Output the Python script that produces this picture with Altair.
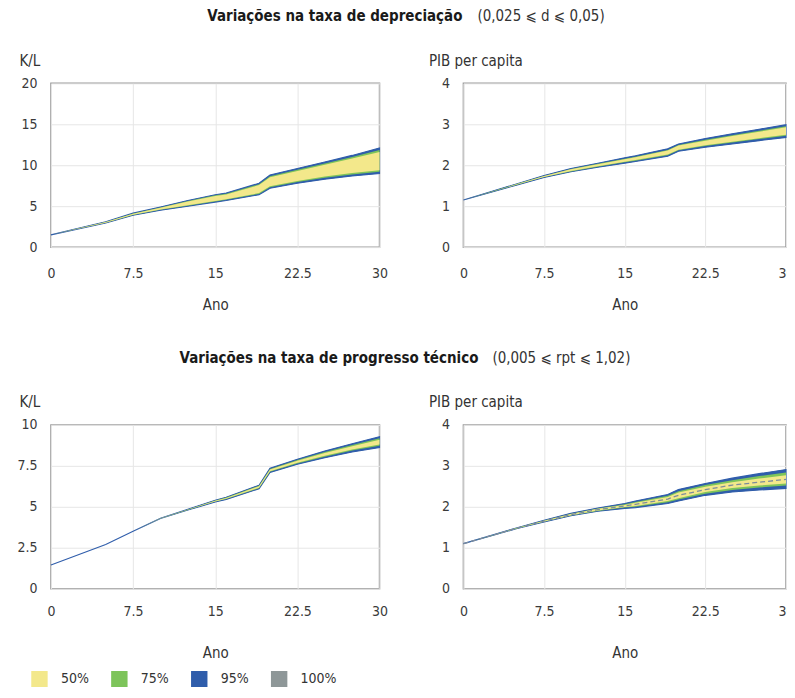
import altair as alt
import pandas as pd

# ---------------- data ----------------
years = [0, 5, 7.5, 10, 12.5, 15, 16, 19, 20, 22.5, 25, 27.5, 30]

# Panel 1: depreciation rate, K/L
dep_kl_lo95 = [1.5, 2.95, 3.9, 4.5, 5.0, 5.5, 5.7, 6.4, 7.2, 7.8, 8.3, 8.7, 9.0]
dep_kl_lo75 = [1.5, 2.97, 3.93, 4.55, 5.06, 5.57, 5.78, 6.5, 7.32, 7.94, 8.46, 8.88, 9.2]
dep_kl_lo50 = [1.5, 2.99, 3.96, 4.6, 5.12, 5.64, 5.86, 6.6, 7.44, 8.08, 8.62, 9.06, 9.4]
dep_kl_hi50 = [1.5, 3.06, 4.09, 4.8, 5.56, 6.24, 6.44, 7.58, 8.54, 9.3, 10.06, 10.82, 11.62]
dep_kl_hi75 = [1.5, 3.08, 4.12, 4.85, 5.63, 6.32, 6.52, 7.68, 8.66, 9.44, 10.22, 11.0, 11.85]
dep_kl_hi95 = [1.5, 3.1, 4.15, 4.9, 5.7, 6.4, 6.6, 7.8, 8.8, 9.6, 10.4, 11.2, 12.1]

# Panel 2: depreciation rate, PIB per capita
dep_pib_lo95 = [1.15, 1.52, 1.70, 1.84, 1.95, 2.05, 2.09, 2.22, 2.34, 2.44, 2.52, 2.60, 2.68]
dep_pib_lo75 = [1.15, 1.525, 1.71, 1.85, 1.965, 2.07, 2.11, 2.245, 2.365, 2.47, 2.555, 2.64, 2.72]
dep_pib_lo50 = [1.15, 1.53, 1.715, 1.86, 1.975, 2.085, 2.125, 2.26, 2.38, 2.49, 2.575, 2.66, 2.745]
dep_pib_hi50 = [1.15, 1.54, 1.735, 1.90, 2.025, 2.145, 2.195, 2.36, 2.48, 2.60, 2.715, 2.82, 2.925]
dep_pib_hi75 = [1.15, 1.545, 1.74, 1.91, 2.035, 2.16, 2.21, 2.375, 2.495, 2.62, 2.735, 2.84, 2.95]
dep_pib_hi95 = [1.15, 1.55, 1.75, 1.92, 2.05, 2.18, 2.23, 2.40, 2.52, 2.65, 2.77, 2.88, 2.99]

# Panel 3: technical progress rate, K/L
tec_kl_lo95 = [1.45, 2.7, 3.5, 4.28, 4.8, 5.3, 5.45, 6.1, 7.1, 7.6, 8.0, 8.35, 8.62]
tec_kl_lo75 = [1.45, 2.7, 3.5, 4.283, 4.81, 5.32, 5.47, 6.13, 7.14, 7.65, 8.06, 8.43, 8.72]
tec_kl_lo50 = [1.45, 2.7, 3.5, 4.286, 4.82, 5.33, 5.49, 6.16, 7.17, 7.69, 8.12, 8.5, 8.8]
tec_kl_hi50 = [1.45, 2.7, 3.5, 4.294, 4.83, 5.37, 5.54, 6.26, 7.28, 7.81, 8.28, 8.7, 9.1]
tec_kl_hi75 = [1.45, 2.7, 3.5, 4.297, 4.84, 5.38, 5.56, 6.29, 7.31, 7.85, 8.34, 8.77, 9.18]
tec_kl_hi95 = [1.45, 2.7, 3.5, 4.3, 4.85, 5.4, 5.58, 6.32, 7.35, 7.9, 8.4, 8.85, 9.28]

# Panel 4: technical progress rate, PIB per capita
tec_pib_lo95 = [1.1, 1.47, 1.63, 1.78, 1.89, 1.96, 1.98, 2.08, 2.14, 2.28, 2.36, 2.41, 2.45]
tec_pib_lo75 = [1.1, 1.472, 1.635, 1.79, 1.90, 1.98, 2.00, 2.11, 2.18, 2.32, 2.41, 2.47, 2.52]
tec_pib_lo50 = [1.1, 1.475, 1.64, 1.795, 1.91, 1.995, 2.02, 2.14, 2.21, 2.36, 2.46, 2.52, 2.57]
tec_pib_hi50 = [1.1, 1.485, 1.66, 1.825, 1.95, 2.045, 2.10, 2.24, 2.35, 2.49, 2.60, 2.69, 2.77]
tec_pib_hi75 = [1.1, 1.488, 1.665, 1.83, 1.96, 2.06, 2.12, 2.27, 2.38, 2.53, 2.65, 2.75, 2.84]
tec_pib_hi95 = [1.1, 1.49, 1.67, 1.84, 1.97, 2.08, 2.14, 2.30, 2.42, 2.57, 2.70, 2.81, 2.91]
tec_pib_med = [1.1, 1.48, 1.65, 1.81, 1.93, 2.02, 2.06, 2.19, 2.28, 2.42, 2.53, 2.60, 2.67]

bands = ["50%", "75%", "95%", "100%"]
band_colors = ["#f3e88b", "#7dc45a", "#2f5dab", "#8e9798"]

x_ticks = [0, 7.5, 15, 22.5, 30]
titles_row1 = ["Variações na taxa de depreciação", "(0,025 ⩽ d ⩽ 0,05)"]
titles_row2 = ["Variações na taxa de progresso técnico", "(0,005 ⩽ rpt ⩽ 1,02)"]

FONT = "DejaVu Sans Condensed, sans-serif"
W_LEFT, W_RIGHT, H = 329, 323, 164


def make_df(lo95, lo75, lo50, hi50, hi75, hi95, med=None):
    d = {"t": years,
         "lo100": lo95, "hi100": hi95,
         "lo95": lo95, "hi95": hi95,
         "lo75": lo75, "hi75": hi75,
         "lo50": lo50, "hi50": hi50}
    if med is not None:
        d["med"] = med
    return pd.DataFrame(d)


def panel(df, width, ymax, yvals, ytitle, title_dx, lab_pad, ano_y, title_texts=None,
          show_med=False):
    xenc = alt.X("t:Q", scale=alt.Scale(domain=[0, 30], nice=False, zero=False),
                 axis=alt.Axis(values=x_ticks, format=".1~f", title="Ano",
                               labelPadding=lab_pad, labelBaseline="middle",
                               titleY=ano_y, titleBaseline="middle"))
    yaxis = alt.Axis(values=yvals, format=".1~f", title=ytitle, titleAngle=0,
                     titleAlign="left", titleX=title_dx, titleY=-23,
                     titleBaseline="middle")
    base = alt.Chart(df)
    layers = []
    for name, lo, hi in [("100%", "lo100", "hi100"), ("95%", "lo95", "hi95"),
                         ("75%", "lo75", "hi75"), ("50%", "lo50", "hi50")]:
        mark_kw = {"opacity": 1}
        if name == "95%":
            mark_kw.update(stroke="#2f5dab", strokeWidth=1.1)
        cenc = alt.Color("band:N", scale=alt.Scale(domain=bands, range=band_colors),
                         legend=alt.Legend(
                             title=None, orient="none", legendX=-20, legendY=588,
                             direction="horizontal", symbolType="square",
                             symbolSize=270, symbolStrokeWidth=0, symbolOpacity=1,
                             labelFontSize=14, labelOffset=13, columnPadding=22,
                             labelFont=FONT, labelColor="#333"))
        layers.append(base.transform_calculate(band=f"'{name}'").mark_area(**mark_kw).encode(
            x=xenc,
            y=alt.Y(f"{lo}:Q", scale=alt.Scale(domain=[0, ymax], nice=False),
                    axis=yaxis),
            y2=f"{hi}:Q",
            color=cenc))
    if show_med:
        layers.append(base.mark_line(color="#7d8c9c", strokeWidth=1.3,
                                     strokeDash=[5, 3]).encode(
            x=xenc, y=alt.Y("med:Q")))
    if title_texts is not None:
        bold_df = pd.DataFrame({"txt": [title_texts[0]]})
        norm_df = pd.DataFrame({"txt": [title_texts[1]]})
        layers.append(alt.Chart(bold_df).mark_text(
            align="right", baseline="middle", font=FONT, fontSize=15,
            fontWeight="bold", color="#1a1a1a").encode(
            text="txt:N", x=alt.value(title_texts[2]), y=alt.value(-67)))
        layers.append(alt.Chart(norm_df).mark_text(
            align="left", baseline="middle", font=FONT, fontSize=15,
            fontWeight="normal", color="#333").encode(
            text="txt:N", x=alt.value(title_texts[3]), y=alt.value(-67)))
    return alt.layer(*layers).properties(width=width, height=H)


p1 = panel(make_df(dep_kl_lo95, dep_kl_lo75, dep_kl_lo50, dep_kl_hi50, dep_kl_hi75, dep_kl_hi95),
           W_LEFT, 20, [0, 5, 10, 15, 20], "K/L", -32, 26, 57,
           title_texts=titles_row1 + [412, 427])
p2 = panel(make_df(dep_pib_lo95, dep_pib_lo75, dep_pib_lo50, dep_pib_hi50, dep_pib_hi75, dep_pib_hi95),
           W_RIGHT, 4, [0, 1, 2, 3, 4], "PIB per capita", -35, 26, 57)
p3 = panel(make_df(tec_kl_lo95, tec_kl_lo75, tec_kl_lo50, tec_kl_hi50, tec_kl_hi75, tec_kl_hi95),
           W_LEFT, 10, [0, 2.5, 5, 7.5, 10], "K/L", -32, 23, 64,
           title_texts=titles_row2 + [428, 442])
p4 = panel(make_df(tec_pib_lo95, tec_pib_lo75, tec_pib_lo50, tec_pib_hi50, tec_pib_hi75, tec_pib_hi95,
                   tec_pib_med),
           W_RIGHT, 4, [0, 1, 2, 3, 4], "PIB per capita", -35, 23, 64, show_med=True)

row1 = alt.hconcat(p1, p2, spacing=84, bounds="flush")
row2 = alt.hconcat(p3, p4, spacing=84, bounds="flush")

chart = alt.vconcat(row1, row2, spacing=342, bounds="flush").properties(
    padding={"left": 8, "top": 0, "right": -8, "bottom": -1}
).configure_view(
    stroke="#9a9a9a", strokeWidth=1.5
).configure_axis(
    labelFont=FONT, titleFont=FONT, labelFontSize=14, titleFontSize=15,
    labelColor="#3a3a3a", titleColor="#333", titleFontWeight="normal",
    domain=False, ticks=False, grid=True, gridColor="#e6e6e6", gridWidth=1,
    labelFlush=False, labelOverlap=False
).configure_axisY(
    labelPadding=14
)

chart.save("out.html", embed_options={"renderer": "svg", "actions": False})
